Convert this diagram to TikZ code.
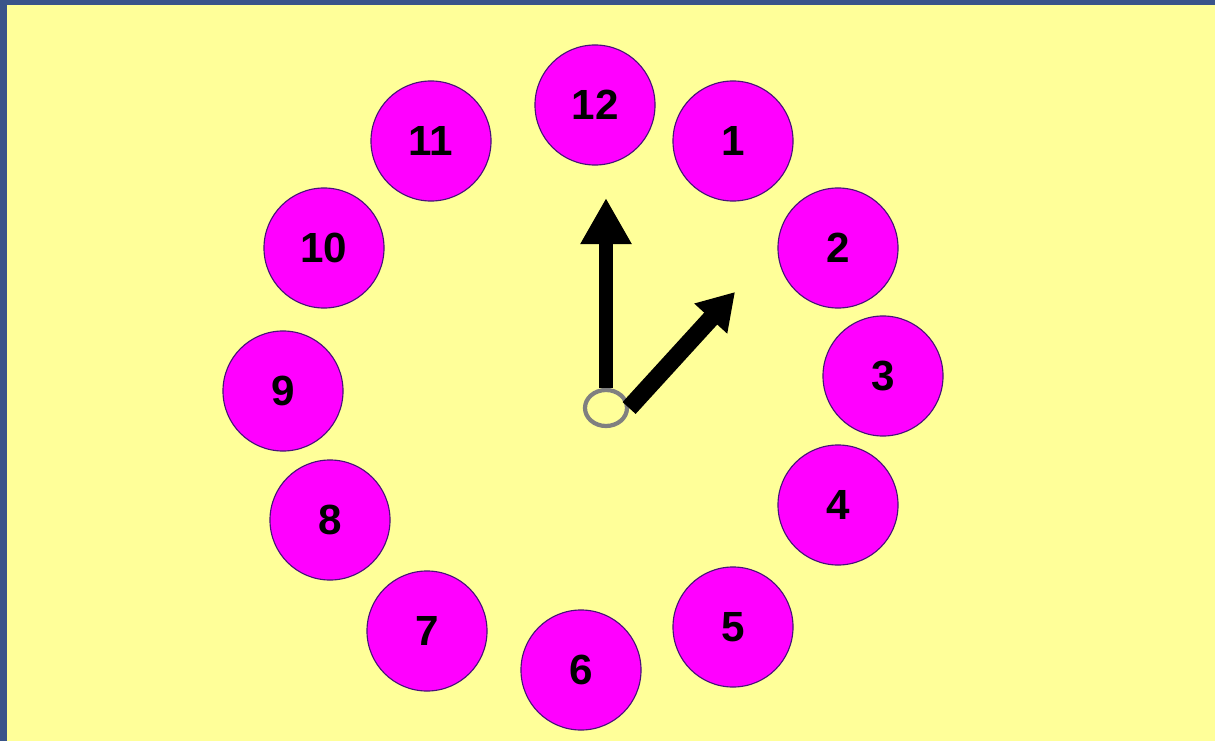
\documentclass[tikz,border=0pt]{standalone}
\usepackage{fontspec}
\setmainfont{Liberation Sans}
\usetikzlibrary{arrows.meta,shapes.geometric}

\definecolor{slide}{RGB}{58,84,138}
\definecolor{paper}{RGB}{255,255,153}
\definecolor{face}{RGB}{255,0,255}
\definecolor{rim}{RGB}{70,20,120}

\begin{document}
\begin{tikzpicture}[x=0.025cm,y=-0.025cm,
  num/.style={circle,draw=rim,line width=0.8pt,fill=face,minimum size=3cm,inner sep=0pt,
    font=\fontsize{30}{30}\selectfont\bfseries},
  hand/.style={line width=#1,-{Triangle[width=1.2cm,length=1.15cm]}}]
  % slide and page
  \fill[slide] (0,0) rectangle (1215,741);
  \fill[paper] (7,5) rectangle (1215,741);
  % numbers round the face
  \foreach \n/\x/\y in {12/595/105,1/733/141,2/838/248,3/883/376,4/838/505,5/733/627,
                        6/581/670,7/427/631,8/330/520,9/283/391,10/324/248,11/431/141} {
    \node[num] (n\n) at (\x,\y) {\n};
  }
  % hands
  \node[ellipse,draw=gray,line width=3pt,minimum width=1.05cm,minimum height=0.9cm,inner sep=0pt] (hub) at (606,408) {};
  \coordinate (mintip) at (606,198);
  \coordinate (hrtip) at (735,292);
  \draw[hand=0.36cm] (hub.north) -- (mintip);
  \draw[-{Triangle[width=1.05cm,length=0.9cm]},line width=0.44cm] (hub.east) -- (hrtip);
\end{tikzpicture}
\end{document}
